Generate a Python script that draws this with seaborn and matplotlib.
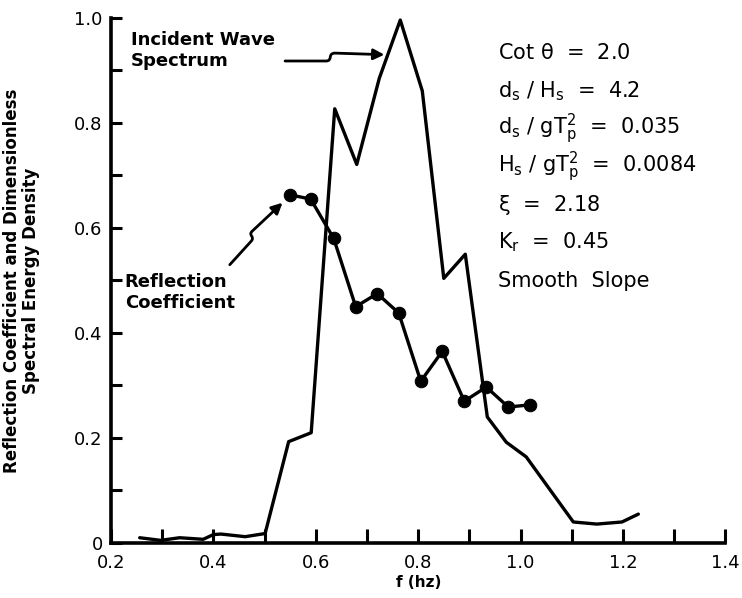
import numpy as np
import pandas as pd
import seaborn as sns
from matplotlib import pyplot as plt
from matplotlib.path import Path
from matplotlib.patches import FancyArrowPatch

# incident wave spectrum (normalised)
spec_f = [0.256, 0.297, 0.334, 0.380, 0.400, 0.415, 0.462, 0.501, 0.547, 0.591,
          0.637, 0.680, 0.724, 0.765, 0.808, 0.850, 0.892, 0.935, 0.972, 1.011,
          1.103, 1.149, 1.198, 1.230]
spec_v = [0.010, 0.005, 0.010, 0.007, 0.016, 0.017, 0.012, 0.018, 0.193, 0.210,
          0.827, 0.721, 0.885, 0.996, 0.861, 0.504, 0.550, 0.240, 0.192, 0.164,
          0.040, 0.036, 0.040, 0.055]

# reflection coefficient
refl_f = [0.550, 0.590, 0.635, 0.678, 0.720, 0.762, 0.805, 0.847, 0.890, 0.933,
          0.976, 1.018]
refl_v = [0.663, 0.655, 0.580, 0.450, 0.475, 0.438, 0.308, 0.365, 0.270, 0.297,
          0.259, 0.263]

xtick_vals = [0.2, 0.4, 0.6, 0.8, 1.0, 1.2, 1.4]
xtick_labels = ["0.2", "0.4", "0.6", "0.8", "1.0", "1.2", "1.4"]
ytick_vals = [0.0, 0.2, 0.4, 0.6, 0.8, 1.0]
ytick_labels = ["0", "0.2", "0.4", "0.6", "0.8", "1.0"]

params = [
    r"Cot $\theta$  =  2.0",
    r"$d_s$ / $H_s$  =  4.2",
    r"$d_s$ / $g T_p^2$  =  0.035",
    r"$H_s$ / $g T_p^2$  =  0.0084",
    r"$\xi$  =  2.18",
    r"$K_r$  =  0.45",
    "Smooth  Slope",
]

spec = pd.DataFrame({"f": spec_f, "v": spec_v})
refl = pd.DataFrame({"f": refl_f, "v": refl_v})

sns.set_style("ticks")
plt.rcParams["font.family"] = ["DejaVu Sans"]
plt.rcParams["mathtext.default"] = "regular"
plt.rcParams["text.color"] = "black"
plt.rcParams["axes.labelcolor"] = "black"
plt.rcParams["xtick.color"] = "black"
plt.rcParams["ytick.color"] = "black"

fig = plt.figure(figsize=(7.42, 5.98), dpi=100)
ax = fig.add_axes([0.1496, 0.092, 0.828, 0.878])

sns.lineplot(spec, x="f", y="v", color="black", linewidth=2.4,
             estimator=None, sort=False, ax=ax, clip_on=False)
sns.lineplot(refl, x="f", y="v", color="black", linewidth=2.4,
             marker="o", markersize=9, markeredgecolor="black",
             estimator=None, sort=False, ax=ax, clip_on=False)

ax.set_xlim(0.2, 1.4)
ax.set_ylim(0, 1.0)
ax.set_xticks(xtick_vals, xtick_labels)
ax.set_yticks(ytick_vals, ytick_labels)
ax.set_xticks(np.arange(0.3, 1.41, 0.2), minor=True)
ax.set_yticks(np.arange(0.1, 1.0, 0.2), minor=True)
ax.tick_params(axis="both", which="both", direction="in", width=2.2,
               labelsize=13)
ax.tick_params(axis="x", which="both", length=10, pad=8)
ax.tick_params(axis="y", which="both", length=8, pad=6)

for side in ["top", "right"]:
    ax.spines[side].set_visible(False)
for side in ["left", "bottom"]:
    ax.spines[side].set_linewidth(2.6)
    ax.spines[side].set_color("black")

ax.set_xlabel("f (hz)", fontsize=11, fontweight="bold", labelpad=2)
ax.set_ylabel("Reflection Coefficient and Dimensionless\nSpectral Energy Density",
              fontsize=12, fontweight="bold", linespacing=1.1)
ax.yaxis.set_label_coords(-0.115, 0.5)

for i, p in enumerate(params):
    ax.text(0.956, 0.933 - i * 0.0722, p, fontsize=15, va="center", ha="left")

ax.text(0.239, 0.975, "Incident Wave\nSpectrum", fontsize=13,
        fontweight="bold", va="top", ha="left", linespacing=1.2)
ax.text(0.227, 0.514, "Reflection\nCoefficient", fontsize=13,
        fontweight="bold", va="top", ha="left", linespacing=1.2)

# wiggly arrows
inc_path = Path(
    [(0.540, 0.918), (0.620, 0.918), (0.634, 0.918), (0.622, 0.933),
     (0.638, 0.933), (0.734, 0.930)],
    [Path.MOVETO, Path.LINETO, Path.CURVE4, Path.CURVE4, Path.CURVE4, Path.LINETO],
)
ref_path = Path(
    [(0.432, 0.530), (0.474, 0.575), (0.482, 0.584), (0.466, 0.586),
     (0.477, 0.595), (0.535, 0.648)],
    [Path.MOVETO, Path.LINETO, Path.CURVE4, Path.CURVE4, Path.CURVE4, Path.LINETO],
)
for pth in [inc_path, ref_path]:
    ax.add_patch(FancyArrowPatch(path=pth, arrowstyle="-|>", mutation_scale=16,
                                 linewidth=2, color="black"))

plt.savefig("out.png", dpi=100)
